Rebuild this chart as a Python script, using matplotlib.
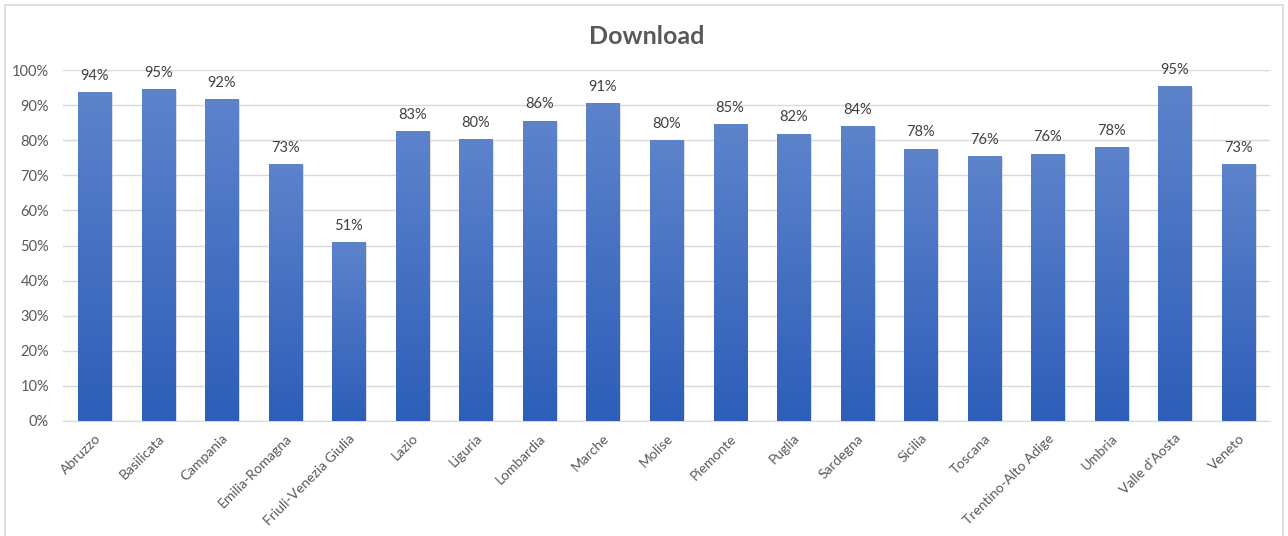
import matplotlib
matplotlib.use("Agg")
import matplotlib.pyplot as plt
import numpy as np
from matplotlib.patches import Rectangle
from matplotlib.ticker import MultipleLocator, PercentFormatter

regions = ["Abruzzo", "Basilicata", "Campania", "Emilia-Romagna", "Friuli-Venezia Giulia",
           "Lazio", "Liguria", "Lombardia", "Marche", "Molise", "Piemonte", "Puglia",
           "Sardegna", "Sicilia", "Toscana", "Trentino-Alto Adige", "Umbria",
           "Valle d'Aosta", "Veneto"]
download = [93.8, 94.6, 91.8, 73.3, 51.1, 82.6, 80.2, 85.6, 90.7, 80.0, 84.7, 81.9,
            84.1, 77.6, 75.6, 76.2, 78.1, 95.3, 73.1]

plt.rcParams['font.family'] = ['Lato', 'DejaVu Sans']

fig = plt.figure(figsize=(12.88, 5.36), dpi=100)
fig.patches.append(Rectangle((0.004, -0.01), 0.992, 1.0, transform=fig.transFigure,
                             facecolor='white', edgecolor='#D9D9D9', linewidth=1.2, zorder=-1))
ax = fig.add_axes([63 / 1288, 115 / 536, 1207 / 1288, 351 / 536])

x = np.arange(len(regions))
bars = ax.bar(x, download, width=0.52, color='none', edgecolor='none', zorder=3)

# vertical gradient fill, lighter at the top
grad = np.linspace(0, 1, 256).reshape(-1, 1)
cmap = matplotlib.colors.LinearSegmentedColormap.from_list("g", ["#2E5EB9", "#5D83CB"])
for b in bars:
    bx, bw, bh = b.get_x(), b.get_width(), b.get_height()
    shadow = Rectangle((bx + 0.03, 0), bw, bh - 0.3, facecolor='#C8C8C8', edgecolor='none',
                       alpha=0.6, zorder=2)
    ax.add_patch(shadow)
    im = ax.imshow(grad, extent=(bx, bx + bw, 0, bh), origin='lower', cmap=cmap,
                   aspect='auto', zorder=3)
    im.set_clip_path(b)
    ax.text(bx + bw / 2, bh + 2.6, f"{round(bh):.0f}%", ha='center', va='bottom',
            fontsize=10.5, color='#404040', zorder=4)

ax.set_xlim(-0.5, len(regions) - 0.5)
ax.set_ylim(0, 100)
ax.yaxis.set_major_locator(MultipleLocator(10))
ax.yaxis.set_major_formatter(PercentFormatter(decimals=0))
ax.grid(axis='y', color='#D9D9D9', linewidth=1, zorder=0)
ax.set_axisbelow(True)
for s in ['top', 'right', 'left']:
    ax.spines[s].set_visible(False)
ax.spines['bottom'].set_color('#D9D9D9')
ax.tick_params(axis='both', length=0, labelsize=10.5, labelcolor='#595959')
ax.tick_params(axis='y', pad=10)
ax.set_xticks(x)
ax.set_xticklabels(regions, rotation=45, ha='right', rotation_mode='anchor', fontsize=10)
ax.tick_params(axis='x', pad=8)

fig.text(0.502, 0.932, "Download", ha='center', va='center', fontsize=18,
         fontweight='bold', color='#595959')

fig.savefig("out.png", dpi=100)
